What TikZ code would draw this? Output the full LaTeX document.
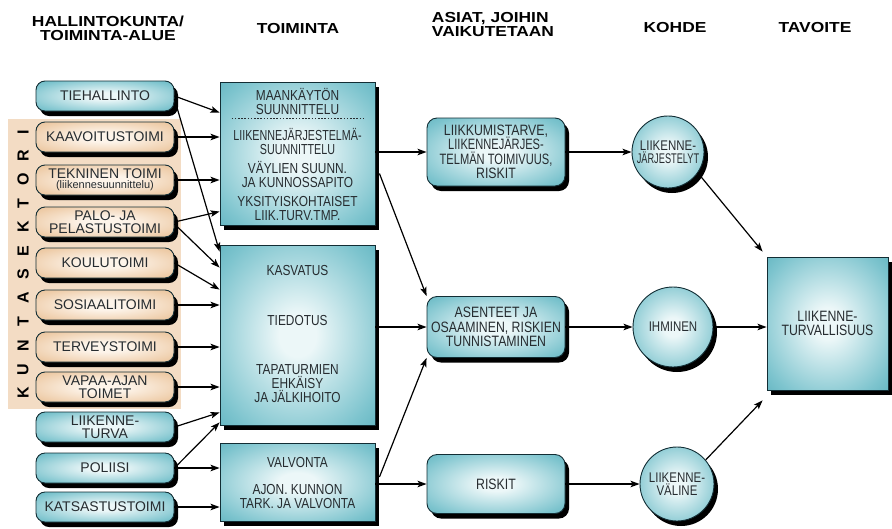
\documentclass[tikz,border=0pt]{standalone}
\usepackage{fontspec}
\setmainfont{Liberation Sans}
\newfontfamily\lf{Liberation Sans}
\newfontfamily\bx[FakeStretch=0.82]{Liberation Sans}
\newfontfamily\bxn[FakeStretch=0.74]{Liberation Sans}
\newfontfamily\bxnn[FakeStretch=0.66]{Liberation Sans}
\newfontfamily\hdr[FakeStretch=1.2]{Liberation Sans Bold}
\newfontfamily\ksf{Liberation Sans Bold}
\usetikzlibrary{shadows,arrows.meta,calc}
\definecolor{tealD}{RGB}{52,155,170}
\definecolor{tealM}{RGB}{125,196,206}
\definecolor{tealL}{RGB}{236,247,248}
\definecolor{tanD}{RGB}{222,174,126}
\definecolor{tanM}{RGB}{238,204,168}
\definecolor{tanL}{RGB}{253,244,234}
\definecolor{kbg}{RGB}{243,220,196}
\definecolor{edgec}{RGB}{18,45,52}
\definecolor{txt}{RGB}{38,44,48}
\pgfdeclareradialshading{tealsh}{\pgfpoint{0bp}{0bp}}{color(0bp)=(tealL); color(6bp)=(tealL); color(30bp)=(tealM); color(50bp)=(tealD); color(75bp)=(tealD)}
\pgfdeclareradialshading{tansh}{\pgfpoint{0bp}{0bp}}{color(0bp)=(tanL); color(8bp)=(tanL); color(30bp)=(tanM); color(50bp)=(tanD); color(75bp)=(tanD)}
\tikzset{
  shad/.style={drop shadow={shadow xshift=4pt,shadow yshift=-5pt,fill=black,opacity=1}},
  lbox/.style={shad,draw=edgec,line width=0.9pt,rounded corners=9pt,minimum width=138pt,minimum height=30pt,inner sep=1pt,align=center,text=txt,font=\lf\fontsize{14}{13}\selectfont},
  tealbox/.style={lbox,shade,shading=tealsh},
  tanbox/.style={lbox,shade,shading=tansh},
  mbox/.style={shad,draw=edgec,line width=0.9pt,shade,shading=tealsh,minimum width=155pt,align=center,text=txt,font=\bx\fontsize{15}{14}\selectfont},
  mtxt/.style={align=center,inner sep=0pt,text=txt,font=\bx\fontsize{14.5}{14}\selectfont},
  abox/.style={shad,draw=edgec,line width=0.9pt,rounded corners=10pt,shade,shading=tealsh,minimum width=138pt,inner sep=1pt,align=center,text=txt,font=\bx\fontsize{15}{14.5}\selectfont},
  circ/.style={shad,circle,draw=edgec,line width=0.9pt,shade,shading=tealsh,inner sep=0pt,align=center,text=txt,font=\bx\fontsize{14}{13}\selectfont},
  hd/.style={inner sep=0pt,align=center,font=\hdr\fontsize{14.5}{14}\selectfont},
  arr/.style={-{Stealth[length=9pt,width=6.5pt,inset=2pt]},line width=1.2pt,black}
}
\begin{document}
\begin{tikzpicture}[x=1pt,y=-1pt]
\useasboundingbox (0,0) rectangle (892,528);
% headers
\node[hd] (h1) at (108,28) {HALLINTOKUNTA/\\TOIMINTA-ALUE};
\node[hd] (h2) at (298,29) {TOIMINTA};
\node[hd,align=left] (h3) at (493,25) {ASIAT, JOIHIN\\VAIKUTETAAN};
\node[hd] (h4) at (675,28) {KOHDE};
\node[hd] (h5) at (815,28) {TAVOITE};
% kuntasektori background
\node[fill=kbg,minimum width=173pt,minimum height=290pt,inner sep=0pt] (kbgn) at (94.5,264) {};
\foreach \ch [count=\i from 0] in {K,U,N,T,A,S,E,K,T,O,R,I}
  \node[rotate=90,inner sep=0pt,font=\ksf\fontsize{16}{16}\selectfont] (ks\i) at (23,{393-23.7*\i}) {\ch};
% left boxes
\node[tealbox] (tie) at (105,96) {TIEHALLINTO};
\node[tanbox] (kaav) at (105,137) {KAAVOITUSTOIMI};
\node[tanbox] (tek) at (105,180) {TEKNINEN TOIMI\\[-3pt]{\fontsize{11}{10}\selectfont (liikennesuunnittelu)}};
\node[tanbox] (palo) at (105,222) {PALO- JA\\PELASTUSTOIMI};
\node[tanbox] (koul) at (105,263) {KOULUTOIMI};
\node[tanbox] (sos) at (105,305) {SOSIAALITOIMI};
\node[tanbox] (terv) at (105,347) {TERVEYSTOIMI};
\node[tanbox] (vapaa) at (105,387) {VAPAA-AJAN\\TOIMET};
\node[tealbox] (lt) at (105,427) {LIIKENNE-\\TURVA};
\node[tealbox] (pol) at (105,468) {POLIISI};
\node[tealbox] (kats) at (105,507) {KATSASTUSTOIMI};
% middle boxes
\node[mbox,minimum height=143pt] (m1) at (297.5,153.5) {};
\node[mtxt] (t11) at (297.5,101) {MAANKÄYTÖN\\SUUNNITTELU};
\draw[line width=1.6pt,dash pattern=on 1.6pt off 1.6pt,txt] ([xshift=12pt,yshift=-37pt]m1.north west) -- ([xshift=-12pt,yshift=-37pt]m1.north east);
\node[mtxt,font=\bxn\fontsize{14.5}{14}\selectfont] (t12) at (297.5,141) {LIIKENNEJÄRJESTELMÄ-\\SUUNNITTELU};
\node[mtxt] (t13) at (297.5,174) {VÄYLIEN SUUNN.\\JA KUNNOSSAPITO};
\node[mtxt] (t14) at (297.5,209) {YKSITYISKOHTAISET\\LIIK.TURV.TMP.};
\node[mbox,minimum height=180pt] (m2) at (297.5,335) {};
\node[mtxt] (t21) at (297.5,271) {KASVATUS};
\node[mtxt] (t22) at (297.5,321) {TIEDOTUS};
\node[mtxt] (t23) at (297.5,384) {TAPATURMIEN\\EHKÄISY\\JA JÄLKIHOITO};
\node[mbox,minimum height=78pt] (m3) at (297.5,482) {};
\node[mtxt] (t31) at (297.5,463) {VALVONTA};
\node[mtxt] (t32) at (297.5,497) {AJON. KUNNON\\TARK. JA VALVONTA};
% third column
\node[abox,minimum height=68pt] (l1) at (496,152) {LIIKKUMISTARVE,\\{\bxn LIIKENNEJÄRJES-}\\{\bxn TELMÄN TOIMIVUUS,}\\RISKIT};
\node[abox,minimum height=61pt] (a2) at (496,327) {ASENTEET JA\\OSAAMINEN, RISKIEN\\TUNNISTAMINEN};
\node[abox,minimum height=59pt] (r3) at (496,484) {RISKIT};
% circles
\node[circ,minimum size=72pt] (c1) at (668,152) {LIIKENNE-\\{\bxnn JÄRJESTELYT}};
\node[circ,minimum size=80pt] (c2) at (673,327) {IHMINEN};
\node[circ,minimum size=74pt] (c3) at (677,484) {LIIKENNE-\\VÄLINE};
% goal
\node[mbox,minimum width=121pt,minimum height=133pt] (big) at (827.5,323.5) {LIIKENNE-\\TURVALLISUUS};
% arrows left -> middle
\draw[arr] (tie.east) -- ([yshift=-31pt]m1.north west);
\draw[arr] ([yshift=-3pt]tie.east) -- ([yshift=-7pt]m2.north west);
\draw[arr] (kaav.east) -- (kaav.east -| m1.west);
\draw[arr] (tek.east) -- (tek.east -| m1.west);
\draw[arr] (palo.east) -- ([yshift=-130pt]m1.north west);
\draw[arr] ([yshift=-2pt]palo.east) -- ([yshift=-23pt]m2.north west);
\draw[arr] (koul.east) -- ([yshift=-45pt]m2.north west);
\draw[arr] (sos.east) -- (sos.east -| m2.west);
\draw[arr] (terv.east) -- (terv.east -| m2.west);
\draw[arr] (vapaa.east) -- (vapaa.east -| m2.west);
\draw[arr] (lt.east) -- ([yshift=13pt]m2.south west);
\draw[arr] (pol.east) -- ([yshift=3pt]m2.south west);
\draw[arr] (pol.east) -- (pol.east -| m3.west);
\draw[arr] (kats.east) -- (kats.east -| m3.west);
% middle -> third
\draw[arr] (m1.east |- l1.west) -- (l1.west);
\draw[arr] ([xshift=4pt,yshift=-20pt]m1.east) -- (a2.north west);
\draw[arr] (m2.east |- a2.west) -- (a2.west);
\draw[arr] ([xshift=4pt,yshift=5pt]m3.east) -- (a2.south west);
\draw[arr] (m3.east |- r3.west) -- (r3.west);
% third -> circles
\draw[arr] (l1.east) -- (c1.west);
\draw[arr] (a2.east) -- (c2.west);
\draw[arr] (r3.east) -- (c3.west);
% circles -> goal
\draw[arr] (c1.-35) -- ([xshift=-4pt,yshift=5pt]big.north west);
\draw[arr] (c2.east) -- (c2.east -| big.west);
\draw[arr] (c3.40) -- ([xshift=-4pt,yshift=-10pt]big.south west);
\end{tikzpicture}
\end{document}
